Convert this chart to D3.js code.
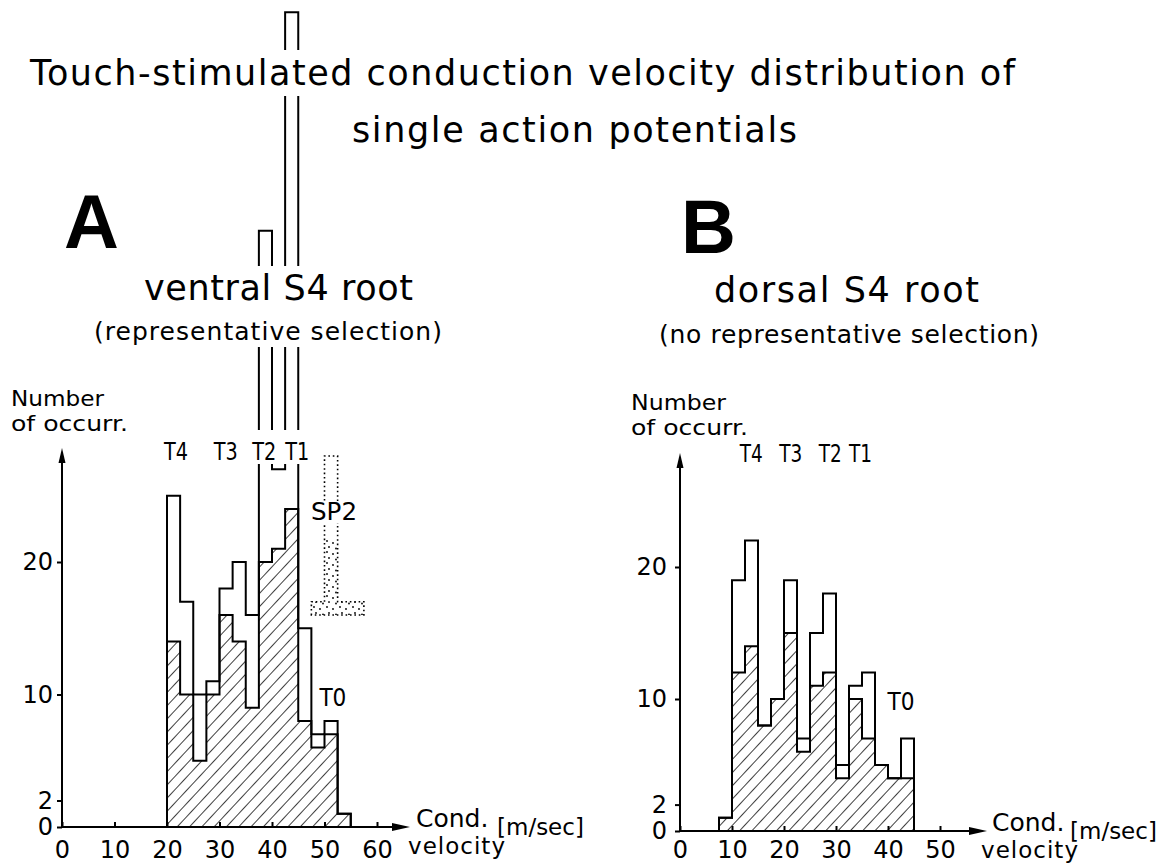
<!DOCTYPE html>
<html><head><meta charset="utf-8">
<script src="https://cdn.jsdelivr.net/npm/d3@7"></script>
<style>
body{margin:0;background:#fff}
svg{display:block}
text{font-family:"DejaVu Sans",sans-serif;fill:#000}
</style>
</head><body>
<svg id="c" width="1158" height="866"></svg>
<script>
// ---------------- data ----------------
const binEdgesA = [20,22.5,25,27.5,30,32.5,35,37.5,40,42.5,45,47.5,50,52.5,55];
const totalA    = [25,17,10,11,18,20,16,45,27,61.5,15,7,8,1];
const hatchedA  = [14,10,5,10,16,14,9,20,21,24,8,6,7,1];
const binEdgesB = [7.5,10,12.5,15,17.5,20,22.5,25,27.5,30,32.5,35,37.5,40,42.5,45];
const totalB    = [1,19,22,8,10,19,7,15,18,5,11,12,5,4,7];
const hatchedB  = [1,12,14,8,10,15,6,11,12,4,10,7,5,4,4];
const xTicksA = [0,10,20,30,40,50,60];
const xTicksB = [0,10,20,30,40,50];
const yTicks  = [0,2,10,20];
const tLabels = ["T4","T3","T2","T1"];
const tPosA = [21.7,31.2,38.5,44.8];
const tPosB = [13.7,21.3,28.9,34.7];
const t0PosA = [51.6, 9];
const t0PosB = [42.5, 9];
const sp2ColumnX = [50,52.5], sp2ColumnY = [17,28];
const sp2BaseX = [47.5,57.5],  sp2BaseY = [16,17];
const sp2StippleTop = 21.7;

// ---------------- scales ----------------
const xA = d3.scaleLinear().domain([0,60]).range([62,377]);
const yA = d3.scaleLinear().domain([0,20]).range([827,562]);
const xB = d3.scaleLinear().domain([0,50]).range([680,940]);
const yB = d3.scaleLinear().domain([0,20]).range([831,567]);

const svg = d3.select('#c');
const defs = svg.append('defs');
const hp = defs.append('pattern').attr('id','hatch').attr('patternUnits','userSpaceOnUse')
  .attr('width',9).attr('height',9).attr('patternTransform','rotate(43)');
hp.append('line').attr('x1',0).attr('y1',-1).attr('x2',0).attr('y2',10).attr('stroke','#000').attr('stroke-width',1.5);
const sp = defs.append('pattern').attr('id','stip').attr('patternUnits','userSpaceOnUse')
  .attr('width',13).attr('height',11);
[[2,2],[8,4],[4,8],[11,9.5]].forEach(d=>sp.append('circle').attr('cx',d[0]).attr('cy',d[1]).attr('r',0.9).attr('fill','#000'));

const gHist = svg.append('g');
const gBand = svg.append('g');
const gText = svg.append('g');

function drawHist(edges, total, hatched, x, y){
  const pts = vals => { const p=[[edges[0],0]]; vals.forEach((v,i)=>{p.push([edges[i],v]);p.push([edges[i+1],v]);}); p.push([edges[edges.length-1],0]); return p; };
  const line = d3.line().x(d=>x(d[0])).y(d=>y(d[1]));
  gHist.append('path').attr('d', line(pts(hatched))+'Z').attr('fill','url(#hatch)')
    .attr('stroke','#000').attr('stroke-width',2).attr('stroke-linejoin','miter');
  gHist.append('path').attr('d', line(pts(total))).attr('fill','none')
    .attr('stroke','#000').attr('stroke-width',2).attr('stroke-linejoin','miter');
}
drawHist(binEdgesA,totalA,hatchedA,xA,yA);
drawHist(binEdgesB,totalB,hatchedB,xB,yB);

// SP2 dotted shape
const sp2 = [[sp2BaseX[0],sp2BaseY[0]],[sp2BaseX[0],sp2BaseY[1]],[sp2ColumnX[0],sp2ColumnY[0]],[sp2ColumnX[0],sp2ColumnY[1]],
             [sp2ColumnX[1],sp2ColumnY[1]],[sp2ColumnX[1],sp2ColumnY[0]],[sp2BaseX[1],sp2BaseY[1]],[sp2BaseX[1],sp2BaseY[0]]];
gHist.append('rect').attr('x',xA(sp2ColumnX[0])).attr('width',xA(sp2ColumnX[1])-xA(sp2ColumnX[0]))
  .attr('y',yA(sp2StippleTop)).attr('height',yA(sp2ColumnY[0])-yA(sp2StippleTop)).attr('fill','url(#stip)');
gHist.append('rect').attr('x',xA(sp2BaseX[0])).attr('width',xA(sp2BaseX[1])-xA(sp2BaseX[0]))
  .attr('y',yA(sp2BaseY[1])).attr('height',yA(sp2BaseY[0])-yA(sp2BaseY[1])).attr('fill','url(#stip)');
gHist.append('path').attr('d', d3.line().x(d=>xA(d[0])).y(d=>yA(d[1]))(sp2)+'Z')
  .attr('fill','none').attr('stroke','#000').attr('stroke-width',1.6).attr('stroke-dasharray','1.6,2.8');

// axes
function axes(x,y,ticksX,topY,tipX,padX,padY){
  const x0 = x(0), y0 = y(0);
  gHist.append('line').attr('x1',x0).attr('x2',x0).attr('y1',y0).attr('y2',topY+8).attr('stroke','#000').attr('stroke-width',2);
  gHist.append('path').attr('d',`M${x0-3.5},${topY+15}L${x0},${topY}L${x0+3.5},${topY+15}Z`).attr('fill','#000');
  gHist.append('line').attr('x1',x0).attr('x2',tipX-10).attr('y1',y0).attr('y2',y0).attr('stroke','#000').attr('stroke-width',2);
  gHist.append('path').attr('d',`M${tipX-18},${y0-4}L${tipX},${y0}L${tipX-18},${y0+4}Z`).attr('fill','#000');
  const ax = gHist.append('g').attr('transform',`translate(0,${y0})`)
    .call(d3.axisBottom(x).tickValues(ticksX).tickSize(-5).tickPadding(padX).tickFormat(d3.format('d')));
  const ay = gHist.append('g').attr('transform',`translate(${x0},0)`)
    .call(d3.axisLeft(y).tickValues(yTicks).tickSize(5).tickPadding(padY).tickFormat(d3.format('d')));
  [ax,ay].forEach(a=>{ a.select('.domain').remove(); a.selectAll('line').attr('stroke','#000').attr('stroke-width',2);
    a.selectAll('text').attr('font-size',24).style('font-family','"DejaVu Sans",sans-serif').attr('fill','#000'); });
}
axes(xA,yA,xTicksA,448,410,14,4);
axes(xB,yB,xTicksB,453,987,10,8);

// ---------------- text ----------------
function label(s,x,y,fs,o={}){
  const t = gText.append('text').attr('x',x).attr('y',y).attr('font-size',fs).text(s);
  if(o.anchor) t.attr('text-anchor',o.anchor);
  if(o.len) t.attr('textLength',o.len).attr('lengthAdjust',o.adj||'spacing');
  if(o.family) t.style('font-family',o.family);
  if(o.weight) t.attr('font-weight',o.weight);
  return t;
}
function band(nodes,padX,padTop,padBot,fixed){
  let x0=1e9,y0=1e9,x1=-1e9,y1=-1e9;
  nodes.forEach(n=>{const b=n.node().getBBox(); x0=Math.min(x0,b.x); y0=Math.min(y0,b.y); x1=Math.max(x1,b.x+b.width); y1=Math.max(y1,b.y+b.height);});
  if(fixed){ y0=fixed[0]; y1=fixed[1]; }
  gBand.append('rect').attr('x',x0-padX).attr('y',y0-padTop).attr('width',x1-x0+2*padX).attr('height',y1-y0+padTop+padBot).attr('fill','#fff');
}

const t1 = label("Touch-stimulated conduction velocity distribution of",30,85,35,{len:985});
band([t1],4,3,3);
label("single action potentials",352,142,35,{len:445});

label("A",64,248,76,{family:'"Liberation Sans",Arial,sans-serif',weight:'bold'});
label("B",681,253,76,{family:'"Liberation Sans",Arial,sans-serif',weight:'bold'});

const v1 = label("ventral S4 root",144,300,35,{len:269});
const v2 = label("(representative selection)",94,340,25,{len:348});
band([v1,v2],2,2,1);
label("dorsal S4 root",714,302,35,{len:265});
label("(no representative selection)",659,343,25,{len:380});

label("Number",11,406,21.5,{len:93,adj:'spacingAndGlyphs'});
label("of occurr.",11,431,21.5,{len:117,adj:'spacingAndGlyphs'});
label("Number",631,410,21.5,{len:95,adj:'spacingAndGlyphs'});
label("of occurr.",631,435,21.5,{len:117,adj:'spacingAndGlyphs'});

const tl = tLabels.map((s,i)=>label(s,xA(tPosA[i]),460,24,{anchor:'middle',len:24,adj:'spacingAndGlyphs'}));
band(tl,3,0,0,[430,464]);
tLabels.forEach((s,i)=>label(s,xB(tPosB[i]),462,24,{anchor:'middle',len:23,adj:'spacingAndGlyphs'}));

const spt = label("SP2",334,520,25,{anchor:'middle',len:46,adj:'spacingAndGlyphs'});
band([spt],1,-4,-3);
label("T0",xA(t0PosA[0]),yA(t0PosA[1])-2,24,{anchor:'middle',len:27,adj:'spacingAndGlyphs'});
label("T0",xB(t0PosB[0]),yB(t0PosB[1])-2,24,{anchor:'middle',len:27,adj:'spacingAndGlyphs'});

label("Cond.",416,827,25);
label("[m/sec]",497,835,23);
label("velocity",408,854,23,{len:97});
label("Cond.",992,831,25);
label("[m/sec]",1070,839,23);
label("velocity",981,858,23,{len:97});
</script>
</body></html>
